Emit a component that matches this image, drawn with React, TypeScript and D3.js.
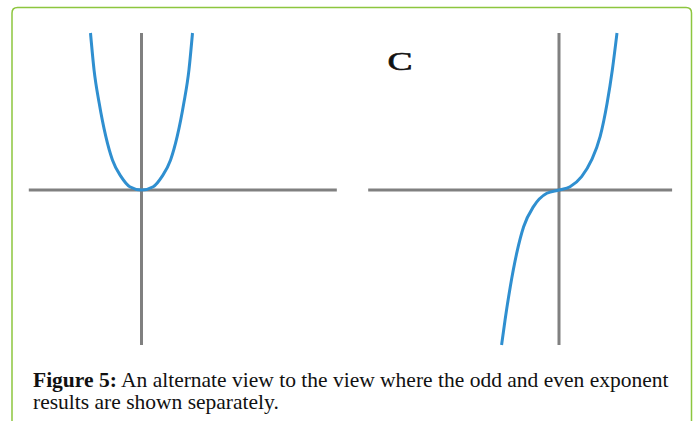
import React from "react";
import * as d3 from "d3";

// even-exponent curve (left panel), x in half-widths, y in heights
const evenX = [-1.0, -0.93, -0.83, -0.7, -0.57, -0.4, -0.23, 0, 0.23, 0.4, 0.57, 0.7, 0.83, 0.93, 1.0];
const evenY = [1.0, 0.764, 0.554, 0.341, 0.191, 0.085, 0.021, 0, 0.021, 0.085, 0.191, 0.341, 0.554, 0.764, 1.0];

// odd-exponent curve (right panel)
const oddX = [-0.99, -0.93, -0.84, -0.73, -0.61, -0.44, -0.21, 0, 0.19, 0.39, 0.56, 0.71, 0.83, 0.92, 1.0];
const oddY = [-0.987, -0.828, -0.616, -0.404, -0.234, -0.106, -0.021, 0, 0.021, 0.085, 0.19, 0.341, 0.554, 0.766, 1.0];

// axis extents in the same units
const leftAxisX = [-2.21, 3.83];
const rightAxisX = [-3.29, 1.95];
const axisY = [-0.987, 1.0];

const panelLabel = "C";
const captionBold = "Figure 5:";
const captionLine1 = " An alternate view to the view where the odd and even exponent";
const captionLine2 = "results are shown separately.";

const W = 697;
const H = 421;
const axisColor = "#808080";
const curveColor = "#2f8fd0";

const Panel = ({ cx, unit, xs, ys, axisX }: any) => {
  const x = d3.scaleLinear().domain([0, 1]).range([cx, cx + unit]);
  const y = d3.scaleLinear().domain([0, 1]).range([190, 33]);
  const pts: [number, number][] = xs.map((v: number, i: number) => [v, ys[i]]);
  const line = d3
    .line<[number, number]>()
    .x((d) => x(d[0]))
    .y((d) => y(d[1]))
    .curve(d3.curveMonotoneX);
  return (
    <g>
      <line x1={x(axisX[0])} x2={x(axisX[1])} y1={y(0)} y2={y(0)} stroke={axisColor} strokeWidth={3} />
      <line x1={x(0)} x2={x(0)} y1={y(axisY[0])} y2={y(axisY[1])} stroke={axisColor} strokeWidth={3} />
      <path d={line(pts) || ""} fill="none" stroke={curveColor} strokeWidth={3} strokeLinecap="butt" />
    </g>
  );
};

export default function App() {
  return (
    <svg
      width={W}
      height={H}
      style={{ position: "absolute", left: 0, top: 0, background: "#fff" }}
    >
      <path
        d={`M12,${H + 10} V13 Q12,7.5 17.5,7.5 H686 Q691.5,7.5 691.5,13 V${H + 10}`}
        fill="none"
        stroke="#8dc63f"
        strokeWidth={1.5}
      />
      <Panel cx={141.5} unit={51} xs={evenX} ys={evenY} axisX={leftAxisX} />
      <Panel cx={559} unit={58} xs={oddX} ys={oddY} axisX={rightAxisX} />
      <text
        transform="translate(400,69.5) scale(1.5,1)"
        textAnchor="middle"
        fontFamily="Liberation Serif"
        fontSize={25}
        fill="#111"
        stroke="#111"
        strokeWidth={0.6}
      >
        {panelLabel}
      </text>
      <g fontFamily="Liberation Serif" fontSize={21.5} fill="#111">
        <text x={33} y={387}>
          <tspan fontWeight="bold">{captionBold}</tspan>
          <tspan>{captionLine1}</tspan>
        </text>
        <text x={33} y={409}>
          {captionLine2}
        </text>
      </g>
    </svg>
  );
}
